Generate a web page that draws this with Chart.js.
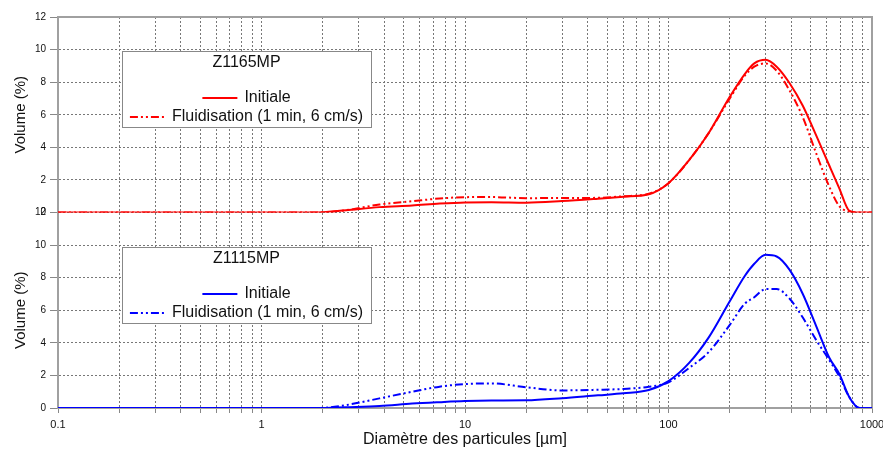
<!DOCTYPE html>
<html>
<head>
<meta charset="utf-8">
<script src="https://cdn.jsdelivr.net/npm/chart.js@4/dist/chart.umd.min.js"></script>
<style>
  html, body { margin: 0; padding: 0; background: #fff; }
  canvas { display: block; }
</style>
</head>
<body>
<canvas id="chart-psd" width="883" height="451"></canvas>
<script>
// diamètres (µm) communs aux quatre courbes
const diametres = [0.1, 1.9, 2.6, 3.8, 5.5, 7.5, 10, 13.5, 20, 30, 45, 60, 80, 100, 126, 158, 200, 237, 264, 300, 340, 393, 457, 533, 616, 690, 775, 870, 1000];

// Z1165MP (panneau du haut)
const z1165Initiale = [0, 0, 0.14, 0.33, 0.43, 0.55, 0.62, 0.63, 0.6, 0.7, 0.85, 0.97, 1.12, 1.8, 3.2, 4.9, 7.1, 8.5, 9.15, 9.37, 8.95, 7.95, 6.55, 4.7, 2.9, 1.5, 0.1, 0, 0];
const z1165Fluid = [0, 0, 0.14, 0.49, 0.69, 0.86, 0.94, 0.95, 0.88, 0.89, 0.9, 1.0, 1.15, 1.8, 3.2, 4.9, 7.0, 8.4, 8.95, 9.15, 8.7, 7.5, 5.85, 3.6, 1.6, 0.39, 0.06, 0, 0];

// Z1115MP (panneau du bas)
const z1115Initiale = [0, 0, 0.05, 0.12, 0.27, 0.36, 0.43, 0.46, 0.47, 0.6, 0.78, 0.9, 1.1, 1.65, 2.75, 4.35, 6.55, 8.1, 8.85, 9.4, 9.3, 8.49, 7.0, 5.0, 3.1, 2.1, 0.65, 0, 0];
const z1115Fluid = [0, 0, 0.18, 0.59, 1.0, 1.31, 1.47, 1.51, 1.27, 1.08, 1.12, 1.17, 1.3, 1.58, 2.45, 3.45, 5.1, 6.4, 6.8, 7.3, 7.3, 6.72, 5.55, 4.15, 2.95, 1.95, 0.65, 0, 0];

const decades = [0.1, 1, 10, 100, 1000];
const decadeLabels = ['0.1', '1', '10', '100', '1000'];
const yTicks = [0, 2, 4, 6, 8, 10, 12];

const FONT = "Arial, 'Liberation Sans', sans-serif";
const dashDot = [8, 3, 2, 3, 2, 3];

const pts = vals => diametres.map((d, i) => ({ x: d, y: vals[i] }));

function serie(label, vals, color, axis, dash) {
  return {
    label: label,
    data: pts(vals),
    borderColor: color,
    borderWidth: 2,
    borderDash: dash,
    pointRadius: 0,
    fill: false,
    cubicInterpolationMode: 'monotone',
    yAxisID: axis
  };
}

function yAxis() {
  return {
    type: 'linear',
    position: 'left',
    stack: 'panneaux',
    stackWeight: 1,
    min: 0,
    max: 12,
    afterBuildTicks: a => { a.ticks = yTicks.map(v => ({ value: v })); },
    afterFit: a => { a.width = 58; },
    ticks: { padding: 4, color: '#111', font: { family: FONT, size: 10 } },
    grid: { color: '#777', tickColor: '#888', tickLength: 8 },
    border: { color: '#a0a0a0', width: 2, dash: [2, 2] },
    title: {
      display: true, text: 'Volume (%)', color: '#111',
      font: { family: FONT, size: 15 }, padding: { top: 12, bottom: 0 }
    }
  };
}

// cadre haut / droite
const cadre = {
  id: 'cadre',
  beforeDatasetsDraw(chart) {
    const { ctx, chartArea: a } = chart;
    ctx.save();
    ctx.strokeStyle = '#a0a0a0';
    ctx.lineWidth = 2;
    ctx.beginPath();
    ctx.moveTo(a.left, a.top);
    ctx.lineTo(a.right, a.top);
    ctx.lineTo(a.right, a.bottom);
    ctx.stroke();
    ctx.restore();
  }
};

// légendes encadrées dans chaque panneau
const legendes = {
  id: 'legendes',
  afterDatasetsDraw(chart) {
    const ctx = chart.ctx;
    const boites = [
      { titre: 'Z1165MP', couleur: '#ff0000', top: 51 },
      { titre: 'Z1115MP', couleur: '#0000ff', top: 247 }
    ];
    const left = 122, w = 249, h = 76, cx = left + w / 2;
    ctx.save();
    ctx.font = '16px ' + FONT;
    ctx.textBaseline = 'middle';
    boites.forEach(b => {
      ctx.fillStyle = '#fff';
      ctx.fillRect(left, b.top, w, h);
      ctx.strokeStyle = '#888';
      ctx.lineWidth = 1;
      ctx.strokeRect(left + 0.5, b.top + 0.5, w, h);

      ctx.fillStyle = '#111';
      ctx.textAlign = 'center';
      ctx.fillText(b.titre, cx, b.top + 12);

      const entrees = [
        { texte: 'Initiale', dash: [], y: b.top + 47 },
        { texte: 'Fluidisation (1 min, 6 cm/s)', dash: dashDot, y: b.top + 66 }
      ];
      entrees.forEach(e => {
        const tw = ctx.measureText(e.texte).width;
        const total = 35 + 7 + tw;
        const x0 = cx - total / 2;
        ctx.strokeStyle = b.couleur;
        ctx.lineWidth = 2;
        ctx.setLineDash(e.dash);
        ctx.beginPath();
        ctx.moveTo(x0, e.y);
        ctx.lineTo(x0 + 35, e.y);
        ctx.stroke();
        ctx.setLineDash([]);
        ctx.textAlign = 'left';
        ctx.fillStyle = '#111';
        ctx.fillText(e.texte, x0 + 42, e.y);
      });
    });
    ctx.restore();
  }
};

new Chart(document.getElementById('chart-psd'), {
  type: 'line',
  data: {
    datasets: [
      serie('Z1165MP Initiale', z1165Initiale, '#ff0000', 'yHaut', []),
      serie('Z1165MP Fluidisation (1 min, 6 cm/s)', z1165Fluid, '#ff0000', 'yHaut', dashDot),
      serie('Z1115MP Initiale', z1115Initiale, '#0000ff', 'yBas', []),
      serie('Z1115MP Fluidisation (1 min, 6 cm/s)', z1115Fluid, '#0000ff', 'yBas', dashDot)
    ]
  },
  options: {
    responsive: false,
    animation: false,
    layout: { padding: { top: 17, right: 11, bottom: 0, left: 0 } },
    plugins: {
      legend: { display: false },
      tooltip: { enabled: false }
    },
    scales: {
      x: {
        type: 'logarithmic',
        position: 'bottom',
        min: 0.1,
        max: 1000,
        afterBuildTicks: a => {
          const t = [];
          decades.forEach(d => {
            for (let m = 1; m <= 9; m++) {
              if (d * m <= 1000) t.push({ value: d * m });
            }
          });
          a.ticks = t;
        },
        afterFit: a => { a.height = 43; a.paddingRight = 0; },
        ticks: {
          autoSkip: false, maxRotation: 0, padding: 5, color: '#111',
          font: { family: FONT, size: 11 },
          callback: v => {
            const i = decades.indexOf(v);
            return i < 0 ? '' : decadeLabels[i];
          }
        },
        grid: { color: '#777', tickColor: '#888', tickLength: 5 },
        border: { color: '#a0a0a0', width: 2, dash: [2, 2] },
        title: {
          display: true, text: 'Diamètre des particules [µm]', color: '#111',
          font: { family: FONT, size: 16 }, padding: { top: 0, bottom: 2 }
        }
      },
      // l'axe déclaré en dernier se place en haut de la pile
      yBas: yAxis(),
      yHaut: yAxis()
    }
  },
  plugins: [cadre, legendes]
});
</script>
</body>
</html>
